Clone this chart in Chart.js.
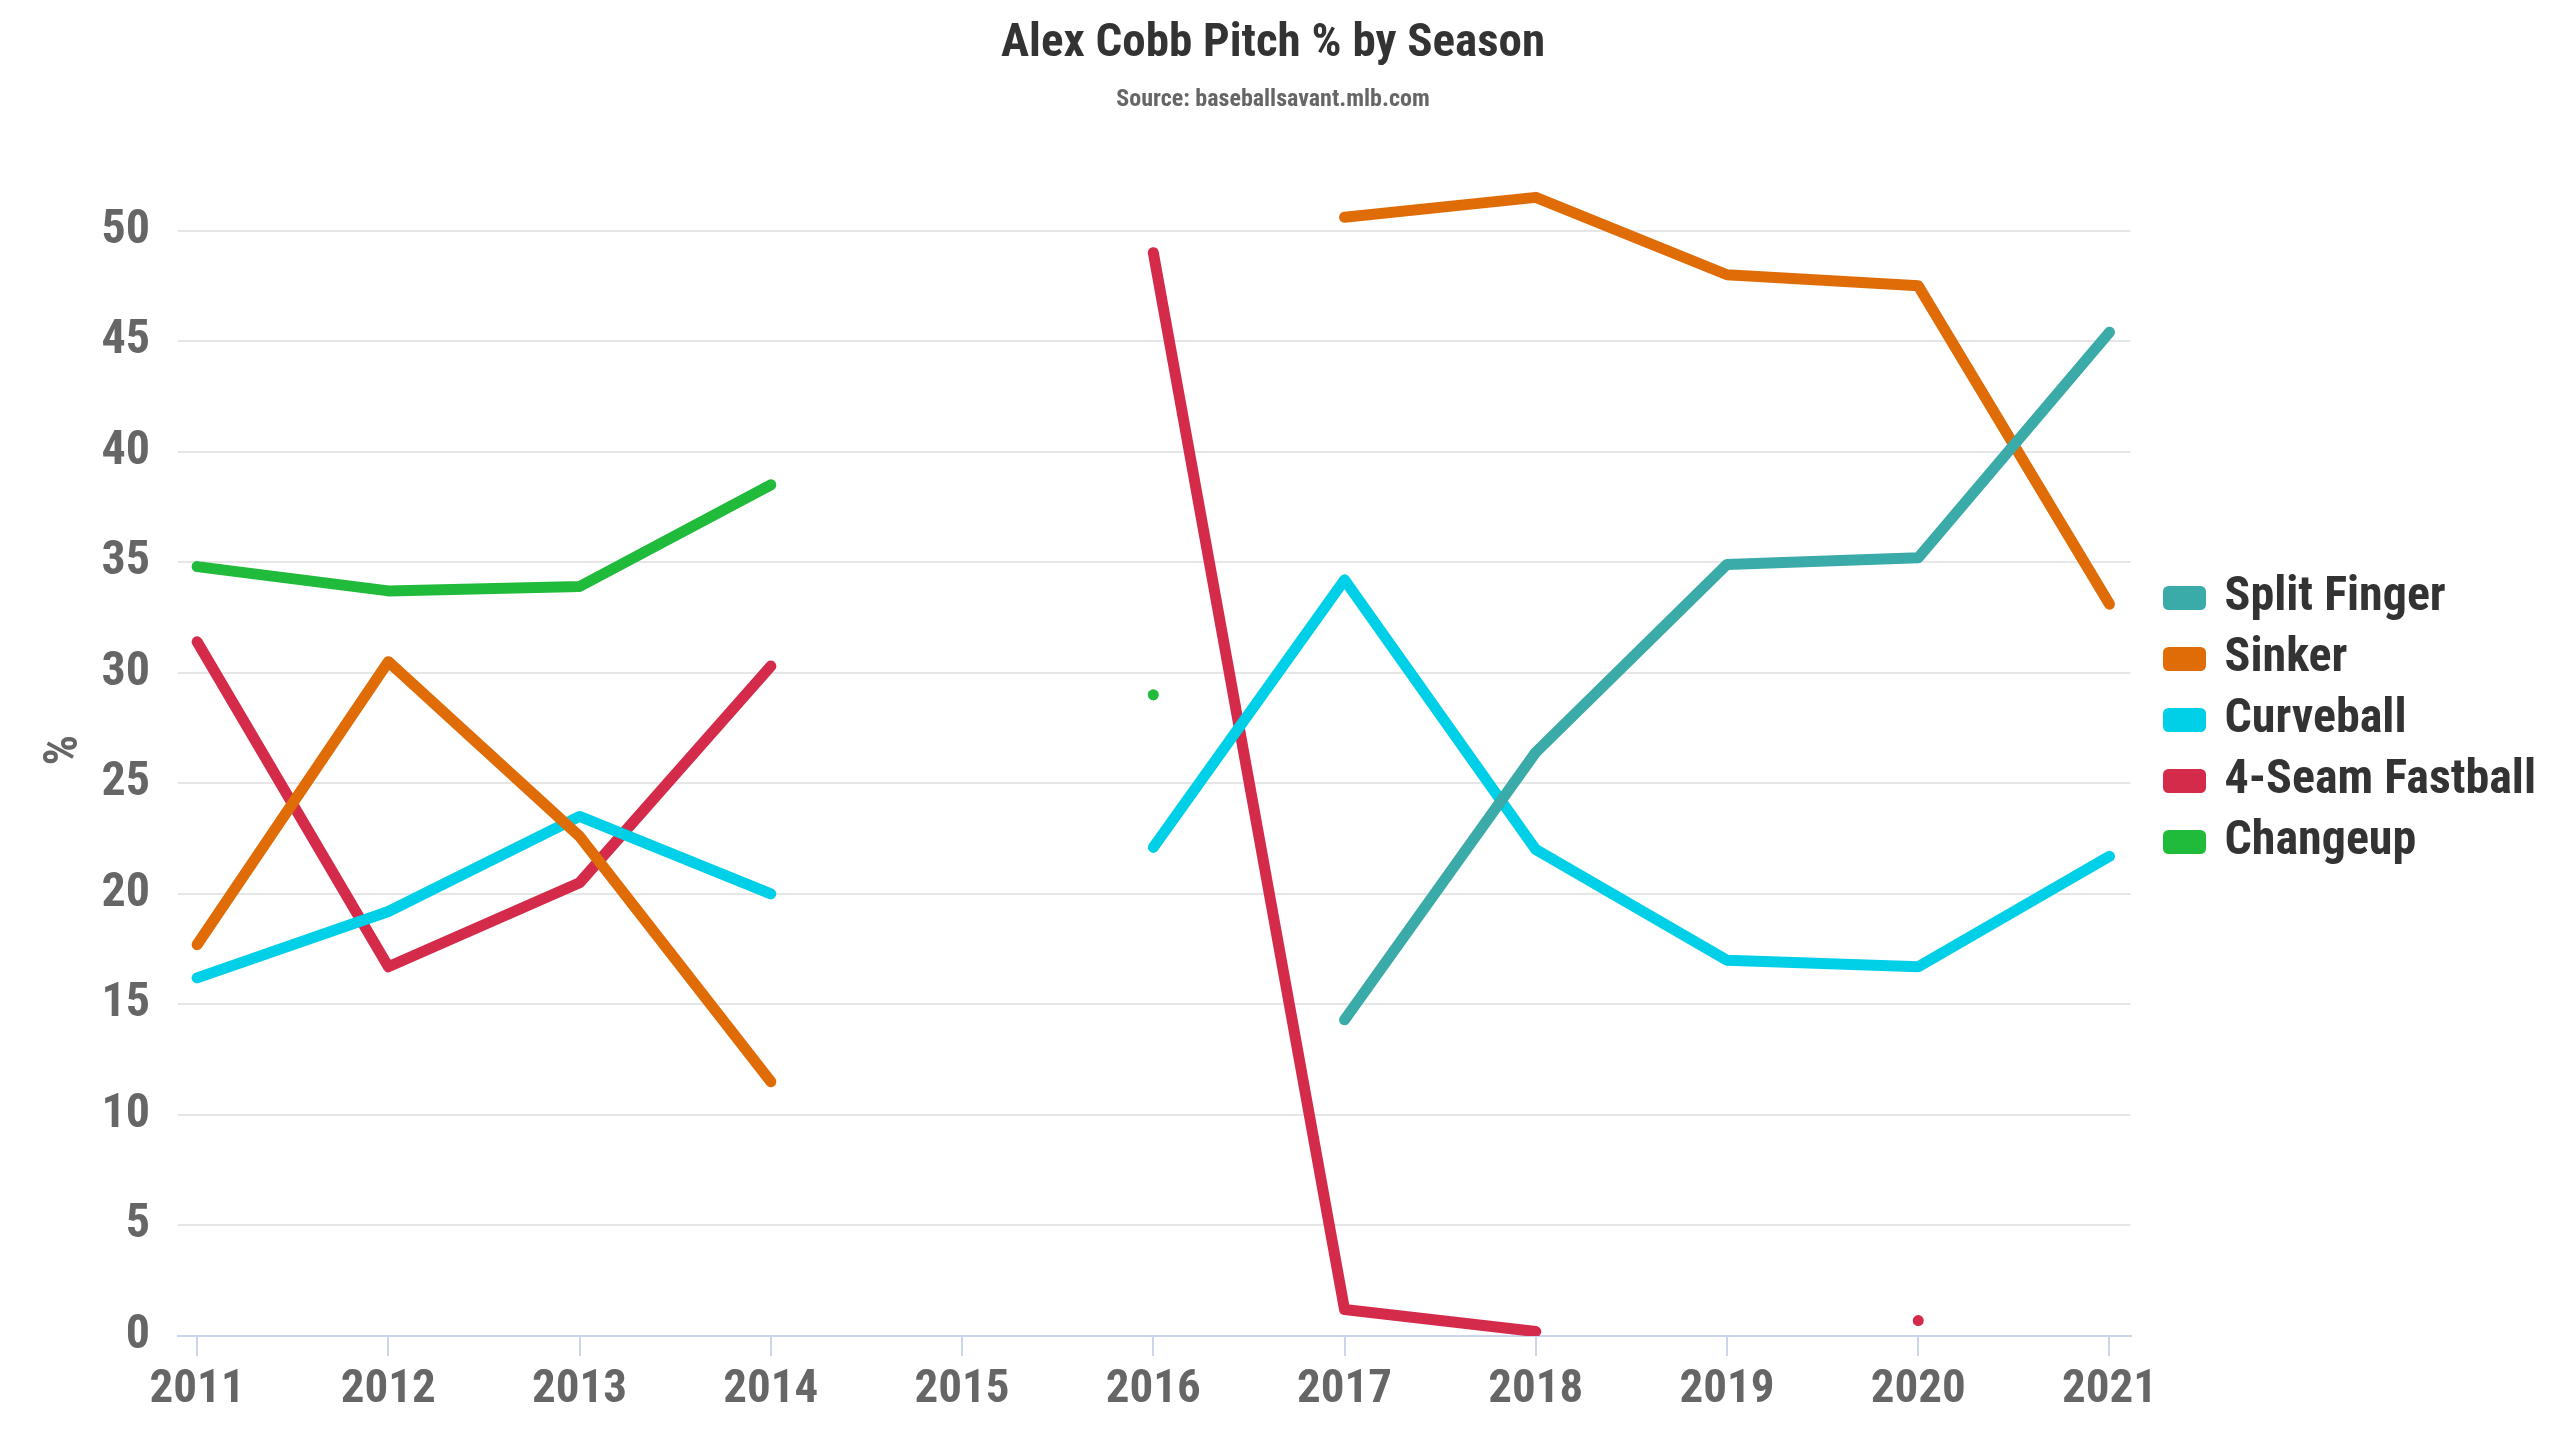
<!DOCTYPE html>
<html>
<head>
<meta charset="utf-8">
<title>Alex Cobb Pitch % by Season</title>
<script src="https://cdn.jsdelivr.net/npm/chart.js@4.4.1/dist/chart.umd.min.js"></script>
<style>
  html, body { margin: 0; padding: 0; background: #fff; }
  #wrap { width: 2560px; height: 1440px; }
</style>
</head>
<body>
<div id="wrap"><canvas id="pitchChart" width="2560" height="1440"></canvas></div>
<script>
// Saisons et pourcentages (null = pas de donnée)
const seasons = [2011, 2012, 2013, 2014, 2015, 2016, 2017, 2018, 2019, 2020, 2021];
const splitFinger = [null, null, null, null, null, null, 14.3, 26.4, 34.9, 35.2, 45.4];
const sinker      = [17.7, 30.5, 22.6, 11.5, null, null, 50.6, 51.5, 48.0, 47.5, 33.1];
const curveball   = [16.2, 19.2, 23.5, 20.0, null, 22.1, 34.2, 22.0, 17.0, 16.7, 21.7];
const fastball    = [31.4, 16.7, 20.5, 30.3, null, 49.0, 1.2, 0.2, null, 0.7, null];
const changeup    = [34.8, 33.7, 33.9, 38.5, null, 29.0, null, null, null, null, null];
const yTicks = [0, 5, 10, 15, 20, 25, 30, 35, 40, 45, 50];

const FONT = '"Roboto Condensed", "Liberation Sans Narrow", "DejaVu Sans Condensed", Roboto, sans-serif';

// point isolé = pas de voisin, affiché comme petit triangle
function isolated(arr, i) {
    return arr[i] !== null && (i === 0 || arr[i - 1] === null) && (i === arr.length - 1 || arr[i + 1] === null);
}

function makeSet(label, values, color, rot) {
    return {
        label: label,
        data: values.map((v, i) => ({ x: seasons[i], y: v })),
        yAxisID: 'y',
        borderColor: color,
        backgroundColor: color,
        borderWidth: 11,
        borderCapStyle: 'round',
        borderJoinStyle: 'round',
        tension: 0,
        spanGaps: false,
        clip: { left: 10, top: 10, right: 10, bottom: 0 },
        pointStyle: 'triangle',
        pointRotation: rot,
        pointBorderWidth: 0,
        pointRadius: ctx => isolated(values, ctx.dataIndex) ? 6 : 0,
        pointHoverRadius: 0
    };
}

const ctx = document.getElementById('pitchChart').getContext('2d');
const chart = new Chart(ctx, {
    type: 'line',
    data: {
        datasets: [
            makeSet('Split Finger', splitFinger, '#3aaba8', 0),
            makeSet('Sinker', sinker, '#e06c08', 0),
            makeSet('Curveball', curveball, '#00cfe8', 0),
            makeSet('4-Seam Fastball', fastball, '#d52b4b', 0),
            makeSet('Changeup', changeup, '#20bb3a', 180)
        ]
    },
    options: {
        responsive: false,
        animation: false,
        layout: { padding: { left: 0, right: 14, top: 0, bottom: 0 } },
        plugins: {
            title: {
                display: true,
                text: 'Alex Cobb Pitch % by Season',
                color: '#333333',
                font: { family: FONT, size: 47, weight: 'bold' },
                padding: { top: 16, bottom: 0 }
            },
            subtitle: {
                display: true,
                text: 'Source: baseballsavant.mlb.com',
                color: '#666666',
                font: { family: FONT, size: 24, weight: 'bold' },
                padding: { top: 13, bottom: 50 }
            },
            legend: {
                position: 'right',
                labels: {
                    boxWidth: 32,
                    boxHeight: 13,
                    padding: 13,
                    color: '#333333',
                    font: { family: FONT, size: 48, weight: 'bold' }
                }
            },
            tooltip: { enabled: false }
        },
        scales: {
            x: {
                type: 'linear',
                min: 2010.9,
                max: 2021.11,
                afterBuildTicks: scale => { scale.ticks = seasons.map(v => ({ value: v })); },
                afterFit: scale => { scale.height = 104; },
                grid: {
                    drawOnChartArea: false,
                    drawTicks: true,
                    tickLength: 20,
                    color: '#ccd6eb',
                    lineWidth: 2
                },
                border: { display: true, color: '#ccd6eb', width: 2 },
                ticks: {
                    color: '#666666',
                    padding: 6,
                    font: { family: FONT, size: 47, weight: 'bold' },
                    callback: v => String(v)
                }
            },
            y: {
                min: 0,
                max: 53,
                afterBuildTicks: scale => { scale.ticks = yTicks.map(v => ({ value: v })); },
                afterFit: scale => { scale.width = 178; },
                grid: { color: '#e6e6e6', lineWidth: 2, drawTicks: false },
                border: { display: false },
                title: {
                    display: true,
                    text: '%',
                    color: '#666666',
                    font: { family: FONT, size: 48, weight: 'bold' },
                    padding: { top: 36, bottom: 0 }
                },
                ticks: {
                    color: '#666666',
                    padding: 28,
                    font: { family: FONT, size: 48, weight: 'bold' }
                }
            },
            // axe vide à droite : espace entre la zone du graphique et la légende
            gap: {
                type: 'linear',
                position: 'right',
                display: true,
                afterFit: scale => { scale.width = 25; },
                grid: { display: false },
                border: { display: false },
                ticks: { display: false }
            }
        }
    }
});
</script>
</body>
</html>
